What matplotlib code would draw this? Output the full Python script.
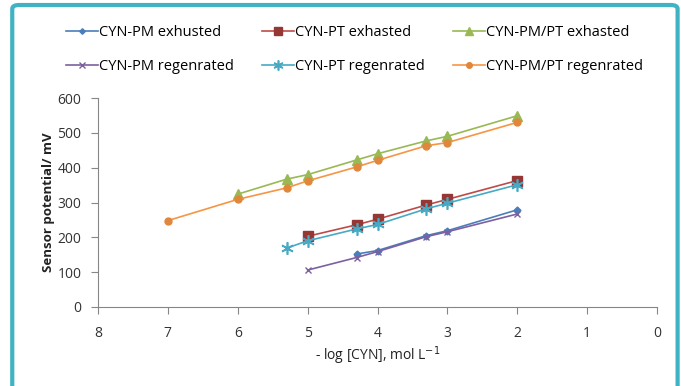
import matplotlib
matplotlib.use('Agg')
import matplotlib.pyplot as plt
from matplotlib.patches import FancyBboxPatch

plt.rcParams['font.family'] = ['Open Sans', 'DejaVu Sans']

# -log[CYN] values and sensor potentials (mV)
x_pm_ex = [4.3, 4, 3.3, 3, 2]
y_pm_ex = [152, 162, 205, 219, 279]
x_pt_ex = [5, 4.3, 4, 3.3, 3, 2]
y_pt_ex = [203, 236, 252, 293, 309, 363]
x_pmpt_ex = [6, 5.3, 5, 4.3, 4, 3.3, 3, 2]
y_pmpt_ex = [324, 367, 380, 422, 440, 477, 490, 549]
x_pm_re = [5, 4.3, 4, 3.3, 3, 2]
y_pm_re = [106, 142, 159, 202, 216, 267]
x_pt_re = [5.3, 5, 4.3, 4, 3.3, 3, 2]
y_pt_re = [169, 190, 224, 237, 282, 298, 351]
x_pmpt_re = [7, 6, 5.3, 5, 4.3, 4, 3.3, 3, 2]
y_pmpt_re = [248, 309, 342, 362, 402, 421, 463, 472, 530]

labels = ['CYN-PM exhusted', 'CYN-PT exhasted', 'CYN-PM/PT exhasted',
          'CYN-PM regenrated', 'CYN-PT regenrated', 'CYN-PM/PT regenrated']

fig = plt.figure(figsize=(6.81, 3.86), dpi=100)
border = FancyBboxPatch((0.018, -0.05), 0.977, 1.037, boxstyle='round,pad=0,rounding_size=0.01',
                        transform=fig.transFigure, facecolor='white',
                        edgecolor='#3fb3c4', linewidth=3, zorder=-5)
fig.patches.append(border)

ax = fig.add_axes([98/681, 1 - 307/386, (657-98)/681, (307-98)/386])
ax.patch.set_alpha(0)

l1, = ax.plot(x_pm_ex, y_pm_ex, color='#4a7ebb', marker='D', markersize=3.5, lw=1.2)
l2, = ax.plot(x_pt_ex, y_pt_ex, color='#be4b48', marker='s', markersize=7, lw=1.2,
              markerfacecolor='#953735', markeredgecolor='#953735')
l3, = ax.plot(x_pmpt_ex, y_pmpt_ex, color='#98b954', marker='^', markersize=7, lw=1.2)
l4, = ax.plot(x_pm_re, y_pm_re, color='#7d60a0', marker='x', markersize=5, lw=1.2)
l5, = ax.plot(x_pt_re, y_pt_re, color='#46aac5', marker=(6, 2, 0), markersize=9, lw=1.2,
              markeredgewidth=1.2)
l6, = ax.plot(x_pmpt_re, y_pmpt_re, color='#f69544', marker='o', markersize=5, lw=1.2,
              markerfacecolor='#e0873c', markeredgecolor='#e0873c')

ax.set_xlim(8, 0)
ax.set_ylim(0, 600)
ax.set_xticks(range(8, -1, -1))
ax.set_yticks(range(0, 601, 100))
for s in ['top', 'right']:
    ax.spines[s].set_visible(False)
for s in ['left', 'bottom']:
    ax.spines[s].set_color('#868686')
ax.tick_params(colors='#868686', labelcolor='#333333', labelsize=10, length=5)
ax.tick_params(axis='x', pad=9)
ax.tick_params(axis='y', pad=7)
ax.set_ylabel('Sensor potential/ mV', fontsize=9.5, fontweight='bold', color='#222222',
              labelpad=2)
ax.set_xlabel('- log [CYN], mol L$^{-1}$', fontsize=10, color='#222222', labelpad=2)

# legend fills column by column, so order handles to read row-wise
handles = [l1, l4, l2, l5, l3, l6]
order = [labels[i] for i in [0, 3, 1, 4, 2, 5]]
fig.legend(handles, order, ncol=3, frameon=False,
           loc='upper left', bbox_to_anchor=(0.077, 0.97), fontsize=10.5,
           handlelength=2.2, handletextpad=0.1, columnspacing=1.9,
           labelspacing=1.35, markerscale=0.8)

fig.savefig('out.png', dpi=100)
